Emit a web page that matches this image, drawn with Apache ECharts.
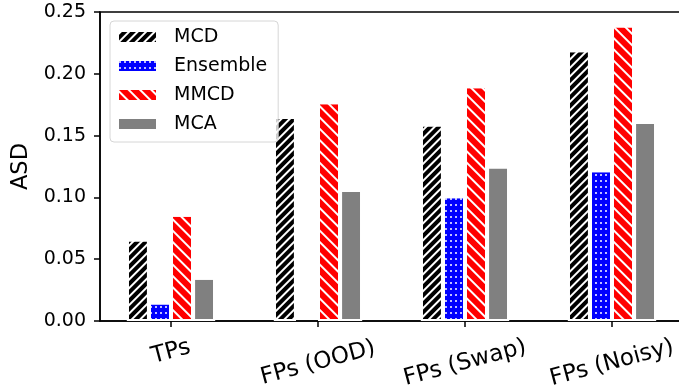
<!DOCTYPE html>
<html>
<head>
<meta charset="utf-8">
<script src="https://cdn.jsdelivr.net/npm/echarts@6/dist/echarts.min.js"></script>
<style>
html,body{margin:0;padding:0;background:#fff;}
#chart{width:679px;height:387px;}
</style>
</head>
<body>
<div id="chart"></div>
<script>
// ---- data ----
const categories = ['TPs', 'FPs (OOD)', 'FPs (Swap)', 'FPs (Noisy)'];
const seriesNames = ['MCD', 'Ensemble', 'MMCD', 'MCA'];
const mcd      = [0.066, 0.165, 0.159, 0.219];
const ensemble = [0.015, null,  0.101, 0.122];
const mmcd     = [0.086, 0.177, 0.190, 0.239];
const mca      = [0.035, 0.106, 0.125, 0.161];
const yTicks   = [0, 0.05, 0.10, 0.15, 0.20, 0.25];

// ---- styling ----
const FONT = 'DejaVu Sans';
const colors = ['#000000', '#0000ff', '#ff0000', '#808080'];
const decals = [
  {symbol: 'rect', symbolSize: 1, color: '#ffffff', dashArrayX: [1, 0], dashArrayY: [1.5, 3.8], rotation: -Math.PI / 4},
  {symbol: 'circle', symbolSize: 1, color: '#ffffff', dashArrayX: [2, 3], dashArrayY: [2, 3.5], rotation: 0},
  {symbol: 'rect', symbolSize: 1, color: '#ffffff', dashArrayX: [1, 0], dashArrayY: [2, 5.6], rotation: Math.PI / 4},
  null
];

const values = [mcd, ensemble, mmcd, mca];
const series = values.map((arr, s) => ({
  name: seriesNames[s],
  type: 'bar',
  barWidth: 22.05,
  barGap: '0%',
  xAxisIndex: 0,
  yAxisIndex: 0,
  data: arr.map((v, i) => [i, v]).filter(d => d[1] !== null),
  itemStyle: {
    color: colors[s],
    borderColor: '#ffffff',
    borderWidth: 2,
    decal: decals[s] || {symbol: 'none', dashArrayX: [1, 0], dashArrayY: [1, 0], color: 'rgba(0,0,0,0)'}
  },
  emphasis: {disabled: true},
  animation: false
}));

const xMin = -71 / 147, xMax = 3 + 71 / 147;
const gridRect = {left: 100, top: 12, right: -4, bottom: 66, containLabel: false, outerBoundsMode: 'none'};
const labelStyle = {fontFamily: FONT, fontSize: 23, color: '#000'};
const labelFmt = v => categories[Math.round(v)];

const option = {
  animation: false,
  backgroundColor: '#ffffff',
  grid: [
    Object.assign({show: true, borderColor: '#000', borderWidth: 1.5, backgroundColor: 'transparent'}, gridRect),
    Object.assign({show: false}, gridRect)
  ],
  legend: {
    orient: 'vertical',
    left: 110, top: 21,
    padding: [6, 11, 8, 9],
    itemGap: 9,
    itemWidth: 37, itemHeight: 10,
    icon: 'rect',
    backgroundColor: 'rgba(255,255,255,0.8)',
    borderColor: '#d6d6d6', borderWidth: 1, borderRadius: 4,
    itemStyle: {borderWidth: 0},
    textStyle: {fontFamily: FONT, fontSize: 19, color: '#000', lineHeight: 20, padding: [0, 0, 0, 13]},
    data: seriesNames,
    selectedMode: false
  },
  xAxis: [{
    // main axis: line, ticks, first label
    gridIndex: 0, type: 'value', position: 'bottom', min: xMin, max: xMax,
    splitLine: {show: false},
    axisLine: {show: true, onZero: false, lineStyle: {color: '#000', width: 1.5}},
    axisTick: {show: true, customValues: [0, 1, 2, 3], length: 6, lineStyle: {color: '#000', width: 1.5}},
    axisLabel: Object.assign({show: true, customValues: [0], rotate: 15, margin: 31,
      align: 'center', verticalAlign: 'middle', hideOverlap: false, formatter: labelFmt}, labelStyle)
  }, {
    // label-only axis for the longer labels (matplotlib aligns rotated label tops)
    gridIndex: 1, type: 'value', position: 'bottom', min: xMin, max: xMax,
    splitLine: {show: false},
    axisLine: {show: false, onZero: false},
    axisTick: {show: false},
    axisLabel: Object.assign({show: true, customValues: [1, 2, 3], rotate: 15, margin: 42,
      align: 'center', verticalAlign: 'middle', hideOverlap: false, formatter: labelFmt}, labelStyle)
  }],
  yAxis: [{
    gridIndex: 0, type: 'value', min: yTicks[0], max: yTicks[yTicks.length - 1], interval: 0.05,
    name: 'ASD', nameLocation: 'middle', nameGap: 55, nameRotate: 90,
    nameTextStyle: {fontFamily: FONT, fontSize: 22.6, color: '#000'},
    splitLine: {show: false},
    axisLine: {show: true, onZero: false, lineStyle: {color: '#000', width: 1.5}},
    axisTick: {show: true, length: 6, lineStyle: {color: '#000', width: 1.5}},
    axisLabel: {fontFamily: FONT, fontSize: 19, color: '#000', margin: 14, formatter: v => v.toFixed(2)}
  }, {
    gridIndex: 1, type: 'value', min: yTicks[0], max: yTicks[yTicks.length - 1],
    show: false
  }],
  series: series
};

const chart = echarts.init(document.getElementById('chart'), null, {renderer: 'canvas'});
chart.setOption(option);
</script>
</body>
</html>
